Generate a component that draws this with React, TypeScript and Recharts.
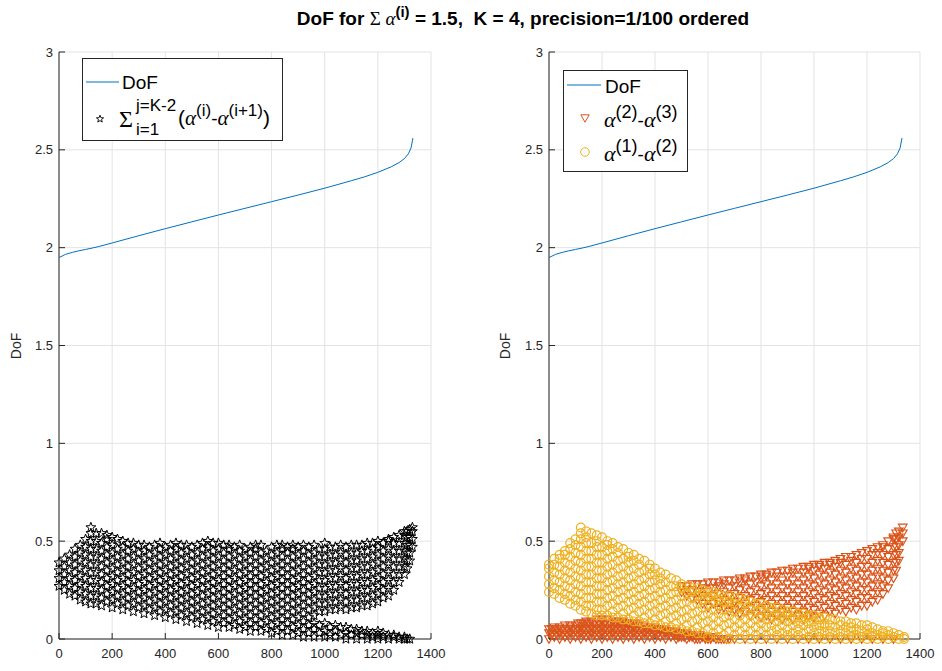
import React from 'react'
import { ComposedChart, Scatter, Line, XAxis, YAxis, CartesianGrid } from 'recharts'

const xTicks = [0, 200, 400, 600, 800, 1000, 1200, 1400]
const yTicks = [0, 0.5, 1, 1.5, 2, 2.5, 3]

// DoF curve
const dofIndex = [1, 25, 50, 75, 100, 125, 150, 200, 300, 400, 500, 600, 700, 800, 900, 1000, 1100, 1150, 1200, 1250, 1280, 1300, 1315, 1325, 1332]
const dofValue = [1.95, 1.966, 1.976, 1.984, 1.991, 1.998, 2.006, 2.024, 2.061, 2.097, 2.132, 2.167, 2.201, 2.235, 2.269, 2.304, 2.342, 2.362, 2.385, 2.413, 2.435, 2.455, 2.48, 2.51, 2.56]

// scatter clouds read column by column: [index, values in hundredths]
// alpha(1)-alpha(3)
const sumCols: [number, number[]][] = [
  [0, [27, 31, 35, 39]],
  [20, [25, 29, 33, 37, 41]],
  [40, [23, 27, 31, 35, 39, 43]],
  [60, [22, 26, 30, 34, 38, 42, 46]],
  [80, [20, 24, 28, 32, 36, 40, 44, 48]],
  [100, [19, 23, 27, 31, 35, 39, 43, 47, 51]],
  [120, [18, 22, 26, 30, 34, 38, 42, 46, 50, 54, 57]],
  [140, [18, 22, 26, 30, 34, 38, 42, 46, 50, 54]],
  [160, [17, 21, 25, 29, 33, 37, 41, 45, 49, 54]],
  [180, [19, 23, 27, 31, 35, 39, 43, 47, 51, 53]],
  [200, [16, 20, 24, 28, 32, 36, 40, 44, 48, 52]],
  [220, [18, 22, 26, 30, 34, 38, 42, 46, 51]],
  [240, [15, 19, 23, 27, 31, 35, 39, 43, 47, 50]],
  [260, [17, 21, 25, 29, 33, 37, 41, 45, 49]],
  [280, [14, 18, 22, 26, 30, 34, 38, 42, 46, 49]],
  [300, [16, 20, 24, 28, 32, 36, 40, 44, 48]],
  [320, [13, 17, 21, 25, 29, 33, 37, 41, 45, 48]],
  [340, [15, 19, 23, 27, 31, 35, 39, 43, 47]],
  [360, [12, 16, 20, 24, 28, 32, 36, 40, 44, 48]],
  [380, [14, 18, 22, 26, 30, 34, 38, 42, 46, 49]],
  [400, [11, 15, 19, 23, 27, 31, 35, 39, 43, 47]],
  [420, [13, 17, 21, 25, 29, 33, 37, 41, 45, 48]],
  [440, [10, 14, 18, 22, 26, 30, 34, 38, 42, 46, 49]],
  [460, [12, 16, 20, 24, 28, 32, 36, 40, 44, 48]],
  [480, [9, 13, 17, 21, 25, 29, 33, 37, 41, 45, 48]],
  [500, [11, 15, 19, 23, 27, 31, 35, 39, 43, 47]],
  [520, [8, 12, 16, 20, 24, 28, 32, 36, 40, 44, 48]],
  [540, [10, 14, 18, 22, 26, 30, 34, 38, 42, 46, 49]],
  [560, [7, 11, 15, 19, 23, 27, 31, 35, 39, 43, 47, 50]],
  [580, [9, 13, 17, 21, 25, 29, 33, 37, 41, 45, 49]],
  [600, [6, 10, 14, 18, 22, 26, 30, 34, 38, 42, 46, 49]],
  [620, [8, 12, 16, 20, 24, 28, 32, 36, 40, 44, 48]],
  [640, [6, 10, 14, 18, 22, 26, 30, 34, 38, 42, 46, 48]],
  [660, [7, 11, 15, 19, 23, 27, 31, 35, 39, 43, 47]],
  [680, [5, 9, 13, 17, 21, 25, 29, 33, 37, 41, 45, 48]],
  [700, [6, 10, 14, 18, 22, 26, 30, 34, 38, 42, 46]],
  [720, [4, 8, 12, 16, 20, 24, 28, 32, 36, 40, 44, 47]],
  [740, [6, 10, 14, 18, 22, 26, 30, 34, 38, 42, 46, 48]],
  [760, [4, 8, 12, 16, 20, 24, 28, 32, 36, 40, 44, 48]],
  [780, [5, 9, 13, 17, 21, 25, 29, 33, 37, 41, 45]],
  [800, [3, 7, 11, 15, 19, 23, 27, 31, 35, 39, 43, 47]],
  [820, [4, 8, 12, 16, 20, 24, 28, 32, 36, 40, 44, 48]],
  [840, [2, 6, 10, 14, 18, 22, 26, 30, 34, 38, 42, 46, 48]],
  [860, [4, 8, 12, 16, 20, 24, 28, 32, 36, 40, 44, 47]],
  [880, [2, 6, 10, 14, 18, 22, 26, 30, 34, 38, 42, 46, 48]],
  [900, [3, 7, 11, 15, 19, 23, 27, 31, 35, 39, 43, 47]],
  [920, [1, 5, 9, 13, 17, 21, 25, 29, 33, 37, 41, 45, 48]],
  [940, [3, 7, 11, 15, 19, 23, 27, 31, 35, 39, 43, 47]],
  [960, [1, 5, 8, 12, 16, 20, 24, 28, 32, 36, 40, 44, 48]],
  [980, [3, 7, 14, 18, 22, 26, 30, 34, 38, 42, 46]],
  [1000, [1, 4, 8, 14, 18, 22, 26, 30, 34, 38, 42, 46, 49]],
  [1020, [2, 6, 15, 19, 23, 27, 31, 35, 39, 43, 47]],
  [1040, [1, 4, 7, 15, 19, 23, 27, 31, 35, 39, 43, 47]],
  [1060, [2, 6, 16, 20, 24, 28, 32, 36, 40, 44, 48]],
  [1080, [0, 3, 6, 15, 19, 23, 27, 31, 35, 39, 43, 47]],
  [1100, [2, 5, 16, 20, 24, 28, 32, 36, 40, 44, 48]],
  [1120, [0, 3, 5, 16, 20, 24, 28, 32, 36, 40, 44, 48]],
  [1140, [2, 4, 17, 21, 25, 29, 33, 37, 41, 45, 48]],
  [1160, [0, 2, 4, 17, 21, 25, 29, 33, 37, 41, 45, 49]],
  [1180, [1, 3, 18, 22, 26, 30, 34, 38, 42, 46, 49]],
  [1200, [0, 2, 4, 19, 23, 27, 31, 35, 39, 43, 47, 50]],
  [1220, [1, 3, 21, 25, 29, 33, 37, 41, 45, 49]],
  [1240, [0, 2, 22, 26, 30, 34, 38, 42, 46, 50, 51]],
  [1260, [1, 2, 25, 29, 33, 37, 41, 45, 49, 52]],
  [1280, [0, 1, 29, 33, 37, 41, 45, 49, 53]],
  [1300, [0, 1, 33, 37, 41, 45, 49, 53, 55]],
  [1310, [0, 36, 40, 44, 48, 52, 55]],
  [1320, [0, 40, 44, 48, 52, 56]],
  [1330, [47, 51, 55, 57]],
]

// alpha(2)-alpha(3)
const diff23Cols: [number, number[]][] = [
  [0, [0, 3, 5]],
  [20, [1, 4, 6]],
  [40, [0, 3, 6]],
  [60, [1, 4, 7]],
  [80, [0, 3, 6, 7]],
  [100, [1, 4, 7]],
  [120, [0, 3, 6, 8]],
  [140, [1, 4, 7, 9]],
  [160, [0, 3, 6, 9]],
  [180, [1, 4, 7, 10]],
  [200, [0, 3, 6, 9, 10]],
  [220, [1, 4, 7, 10]],
  [240, [0, 3, 6, 9]],
  [260, [1, 4, 7, 9]],
  [280, [0, 3, 6, 9]],
  [300, [1, 4, 7, 8]],
  [320, [0, 3, 6, 8]],
  [340, [1, 4, 7]],
  [360, [0, 3, 6, 7]],
  [380, [1, 4, 6]],
  [400, [0, 3, 6]],
  [420, [1, 4, 5]],
  [440, [0, 3, 5]],
  [460, [1, 4]],
  [480, [0, 2, 4]],
  [500, [1, 3, 24, 27]],
  [520, [0, 3, 22, 25, 27]],
  [540, [1, 2, 21, 25, 28]],
  [560, [0, 2, 20, 24, 28]],
  [580, [1, 18, 22, 26, 28]],
  [600, [0, 1, 16, 20, 24, 29]],
  [620, [1, 18, 22, 26, 29]],
  [640, [0, 15, 19, 23, 27, 29]],
  [660, [0, 16, 20, 24, 28, 30]],
  [680, [0, 14, 18, 22, 26, 30]],
  [700, [0, 15, 19, 23, 27, 30]],
  [720, [13, 17, 21, 25, 29, 31]],
  [740, [0, 14, 18, 22, 26, 30, 31]],
  [760, [12, 16, 20, 24, 28, 32]],
  [780, [0, 13, 17, 21, 25, 29, 32]],
  [800, [11, 15, 19, 23, 27, 31, 33]],
  [820, [0, 12, 16, 20, 24, 28, 32, 33]],
  [840, [10, 14, 18, 22, 26, 30, 34]],
  [860, [0, 12, 16, 20, 24, 28, 32, 34]],
  [880, [10, 14, 18, 22, 26, 30, 35]],
  [900, [0, 12, 16, 20, 24, 28, 32, 35]],
  [920, [10, 14, 18, 22, 26, 30, 34, 36]],
  [940, [0, 12, 16, 20, 24, 28, 32, 36]],
  [960, [10, 14, 18, 22, 26, 30, 34, 37]],
  [980, [0, 12, 16, 20, 24, 28, 32, 36, 37]],
  [1000, [11, 15, 19, 23, 27, 31, 35, 38]],
  [1020, [0, 13, 17, 21, 25, 29, 33, 37, 38]],
  [1040, [12, 16, 20, 24, 28, 32, 36, 39]],
  [1060, [0, 14, 18, 22, 26, 30, 34, 38, 39]],
  [1080, [13, 17, 21, 25, 29, 33, 37, 40]],
  [1100, [0, 15, 19, 23, 27, 31, 35, 39, 41]],
  [1120, [14, 18, 22, 26, 30, 34, 38, 42]],
  [1140, [0, 16, 20, 24, 28, 32, 36, 40, 42]],
  [1160, [15, 19, 23, 27, 31, 35, 39, 43]],
  [1180, [0, 17, 21, 25, 29, 33, 37, 41, 44]],
  [1200, [17, 21, 25, 29, 33, 37, 41, 45]],
  [1220, [0, 19, 23, 27, 31, 35, 39, 43, 46]],
  [1240, [20, 24, 28, 32, 36, 40, 44, 47]],
  [1260, [0, 23, 27, 31, 35, 39, 43, 47, 48]],
  [1280, [26, 30, 34, 38, 42, 46, 50]],
  [1300, [0, 31, 35, 39, 43, 47, 51, 52]],
  [1310, [35, 39, 43, 47, 51, 54]],
  [1320, [40, 44, 48, 52, 55]],
  [1335, [50, 54, 57]],
]

// alpha(2)-alpha(3), the dense low hump between the columns above
const diff23LowCols: [number, number[]][] = [
  [10, [2, 5]], [30, [2, 5]], [50, [2, 5]], [70, [2, 5]], [90, [2, 5]],
  [110, [2, 5, 8]], [130, [2, 5, 8]], [150, [2, 5, 8]], [170, [2, 5, 8]], [190, [2, 5, 8]],
  [210, [2, 5, 8]], [230, [2, 5, 8]], [250, [2, 5, 8]], [270, [2, 5, 8]], [290, [2, 5, 8]],
  [310, [2, 5, 8]], [330, [2, 5, 8]], [350, [2, 5]], [370, [2, 5]], [390, [2, 5]],
  [410, [2, 5]], [430, [2, 5]], [450, [2, 4]], [470, [2, 4]], [490, [1, 3]],
  [510, [1, 3]], [530, [1, 2]], [550, [0, 2]], [570, [0, 2]], [590, [0, 1]],
  [610, [0, 1]], [630, [0]], [650, [0]], [670, [0]],
]

// alpha(1)-alpha(2)
const diff12Cols: [number, number[]][] = [
  [0, [24, 28, 32, 36, 38]],
  [20, [23, 26, 30, 34, 38, 41]],
  [40, [21, 25, 29, 33, 37, 41, 43]],
  [60, [20, 23, 27, 31, 35, 39, 43, 45]],
  [80, [18, 22, 26, 30, 34, 38, 42, 46, 49]],
  [100, [17, 20, 24, 28, 32, 36, 40, 44, 48, 51]],
  [120, [15, 19, 23, 27, 31, 35, 39, 43, 47, 51, 54, 57]],
  [140, [14, 17, 21, 25, 29, 33, 37, 41, 45, 49, 52, 55]],
  [160, [13, 17, 21, 25, 29, 33, 37, 41, 45, 49, 54]],
  [180, [12, 15, 19, 23, 27, 31, 35, 39, 43, 47, 50, 53]],
  [200, [12, 15, 19, 23, 27, 31, 35, 39, 43, 47, 52]],
  [220, [12, 17, 21, 25, 29, 33, 37, 41, 45, 48, 50]],
  [240, [11, 14, 18, 22, 26, 30, 34, 38, 42, 46, 49]],
  [260, [11, 16, 20, 24, 28, 32, 36, 40, 44, 47]],
  [280, [10, 13, 17, 21, 25, 29, 33, 37, 41, 46]],
  [300, [10, 15, 19, 23, 27, 31, 35, 39, 42, 44]],
  [320, [9, 12, 16, 20, 24, 28, 32, 36, 40, 43]],
  [340, [9, 14, 18, 22, 26, 30, 34, 38, 41]],
  [360, [8, 11, 15, 19, 23, 27, 31, 35, 40]],
  [380, [8, 13, 17, 21, 25, 29, 33, 36, 38]],
  [400, [7, 10, 14, 18, 22, 26, 30, 33, 36]],
  [420, [7, 12, 16, 20, 24, 28, 31, 34]],
  [440, [6, 9, 13, 17, 21, 25, 29, 33]],
  [460, [6, 11, 15, 19, 23, 27, 31]],
  [480, [5, 8, 12, 16, 20, 24, 27, 30]],
  [500, [5, 10, 14, 18, 22, 26, 28]],
  [520, [4, 7, 11, 15, 19, 23, 27]],
  [540, [4, 9, 13, 17, 21, 24, 26]],
  [560, [3, 6, 10, 14, 18, 22, 26]],
  [580, [3, 8, 12, 16, 20, 23, 25]],
  [600, [1, 5, 9, 13, 17, 21, 24]],
  [620, [3, 7, 11, 15, 19, 22, 24]],
  [640, [1, 5, 9, 13, 17, 20, 23]],
  [660, [2, 7, 11, 15, 19, 22]],
  [680, [0, 4, 8, 12, 16, 19, 22]],
  [700, [2, 6, 10, 14, 18, 21]],
  [720, [0, 4, 8, 12, 16, 21]],
  [740, [2, 6, 10, 14, 18, 20]],
  [760, [0, 4, 8, 12, 15, 19]],
  [780, [2, 6, 10, 14, 18]],
  [800, [0, 4, 8, 11, 15, 18]],
  [820, [2, 6, 10, 13, 17]],
  [840, [0, 4, 7, 11, 14, 16]],
  [860, [2, 5, 9, 12, 16]],
  [880, [0, 3, 7, 10, 13, 15]],
  [900, [2, 5, 9, 12, 14]],
  [920, [0, 3, 7, 10, 14]],
  [940, [2, 5, 8, 11, 13]],
  [960, [0, 3, 7, 10, 13]],
  [980, [1, 5, 8, 11, 12]],
  [1000, [0, 3, 6, 9, 12]],
  [1020, [1, 4, 7, 10, 11]],
  [1040, [0, 3, 6, 8, 11]],
  [1060, [1, 4, 7, 10]],
  [1080, [0, 3, 6, 10]],
  [1100, [1, 4, 7, 9]],
  [1120, [0, 3, 6, 9]],
  [1140, [1, 4, 6, 8]],
  [1160, [0, 2, 5, 8]],
  [1180, [1, 4, 7]],
  [1200, [0, 2, 5, 7]],
  [1220, [1, 3, 6]],
  [1240, [0, 2, 5]],
  [1260, [1, 3, 4]],
  [1280, [0, 2, 4]],
  [1300, [1, 3]],
  [1320, [0, 2]],
  [1340, [0, 1]],
]

const AXIS = '#262626'
const GRID = '#e3e3e3'
const BLUE = '#0072BD'
const ORANGE = '#D95319'
const YELLOW = '#EDB120'
const SANS = '"Liberation Sans", Arial, Helvetica, sans-serif'
const SERIF = '"Liberation Serif", "DejaVu Serif", serif'

const toPoints = (cols: [number, number[]][]) =>
  cols.flatMap(([x, ys]) => ys.map((v) => ({ x, y: v / 100 })))

const dofData = dofIndex.map((x, i) => ({ x, y: dofValue[i] }))
const sumData = toPoints(sumCols)
const d23Data = toPoints([...diff23LowCols, ...diff23Cols])
const d12Data = toPoints(diff12Cols)

const starPath = (cx: number, cy: number, r = 5.2) => {
  const pts: string[] = []
  for (let k = 0; k < 10; k++) {
    const rr = k % 2 === 0 ? r : r * 0.42
    const a = -Math.PI / 2 + (k * Math.PI) / 5
    pts.push(`${(cx + rr * Math.cos(a)).toFixed(2)},${(cy + rr * Math.sin(a)).toFixed(2)}`)
  }
  return `M${pts.join('L')}Z`
}

const StarMark = (p: any) => (
  <path d={starPath(p.cx, p.cy)} fill="none" stroke="#000" strokeWidth={1} />
)
const TriMark = (p: any) => (
  <path
    d={`M${p.cx - 4.3},${p.cy - 3.3}L${p.cx + 4.3},${p.cy - 3.3}L${p.cx},${p.cy + 4.3}Z`}
    fill="none"
    stroke={ORANGE}
    strokeWidth={1.15}
  />
)
const RingMark = (p: any) => (
  <circle cx={p.cx} cy={p.cy} r={4.4} fill="none" stroke={YELLOW} strokeWidth={1.2} />
)

function Axes() {
  return [
    <CartesianGrid key="g" stroke={GRID} />,
    <XAxis
      key="xb"
      type="number"
      dataKey="x"
      domain={[0, 1400]}
      ticks={xTicks}
      interval={0}
      height={20}
      tickSize={-6}
      tickMargin={16}
      stroke={AXIS}
      tick={{ fill: AXIS, fontSize: 13 }}
    />,
    <XAxis
      key="xt"
      xAxisId="top"
      orientation="top"
      mirror
      type="number"
      domain={[0, 1400]}
      ticks={xTicks}
      interval={0}
      height={0}
      tickSize={6}
      tick={false}
      stroke={AXIS}
    />,
    <YAxis
      key="yl"
      type="number"
      dataKey="y"
      domain={[0, 3]}
      ticks={yTicks}
      interval={0}
      width={30}
      tickSize={-6}
      tickMargin={12}
      stroke={AXIS}
      tick={{ fill: AXIS, fontSize: 13 }}
    />,
    <YAxis
      key="yr"
      yAxisId="right"
      orientation="right"
      mirror
      type="number"
      domain={[0, 3]}
      ticks={yTicks}
      interval={0}
      width={0}
      tickSize={6}
      tick={false}
      stroke={AXIS}
    />,
  ]
}

const AlphaDiff = ({ x, y, a, b }: { x: number; y: number; a: string; b: string }) => (
  <text x={x} y={y} fontSize={19} fill="#000">
    <tspan fontFamily={SERIF} fontStyle="italic" fontSize={22}>α</tspan>
    <tspan dy={-9} fontSize={18}>{a}</tspan>
    <tspan dy={9}>-</tspan>
    <tspan fontFamily={SERIF} fontStyle="italic" fontSize={22}>α</tspan>
    <tspan dy={-9} fontSize={18}>{b}</tspan>
  </text>
)

export default function App() {
  return (
    <div
      style={{
        position: 'absolute',
        left: 0,
        top: 0,
        width: 942,
        height: 671,
        background: '#fff',
        fontFamily: SANS,
        overflow: 'hidden',
      }}
    >
      <div style={{ position: 'absolute', left: 0, top: 0 }}>
        <ComposedChart width={471} height={671} margin={{ top: 52, right: 40, bottom: 12, left: 29 }}>
          {Axes()}
          <Line data={dofData} dataKey="y" type="linear" stroke={BLUE} strokeWidth={1} dot={false} isAnimationActive={false} />
          <Scatter data={sumData} shape={StarMark} isAnimationActive={false} />
        </ComposedChart>
      </div>
      <div style={{ position: 'absolute', left: 490, top: 0 }}>
        <ComposedChart width={452} height={671} margin={{ top: 52, right: 22, bottom: 12, left: 29 }}>
          {Axes()}
          <Line data={dofData} dataKey="y" type="linear" stroke={BLUE} strokeWidth={1} dot={false} isAnimationActive={false} />
          <Scatter data={d23Data} shape={TriMark} isAnimationActive={false} />
          <Scatter data={d12Data} shape={RingMark} isAnimationActive={false} />
        </ComposedChart>
      </div>

      <svg width={942} height={671} style={{ position: 'absolute', left: 0, top: 0, pointerEvents: 'none' }}>
        {/* title */}
        <text x={523} y={25} textAnchor="middle" fontSize={19} fontWeight="bold" fill="#000" style={{ whiteSpace: 'pre' }}>
          DoF for <tspan fontFamily={SERIF} fontWeight="normal">Σ </tspan>
          <tspan fontFamily={SERIF} fontStyle="italic" fontWeight="normal">α</tspan>
          <tspan dy={-8} fontSize={15}>(i)</tspan>
          <tspan dy={8}> = 1.5,  K = 4, precision=1/100 ordered</tspan>
        </text>

        {/* y labels */}
        <text transform="translate(21,346) rotate(-90)" textAnchor="middle" fontSize={14} fill={AXIS}>DoF</text>
        <text transform="translate(510,346) rotate(-90)" textAnchor="middle" fontSize={14} fill={AXIS}>DoF</text>

        {/* left legend */}
        <rect x={82.5} y={58.5} width={200} height={82} fill="#fff" stroke={AXIS} />
        <line x1={86} x2={119} y1={82} y2={82} stroke={BLUE} />
        <text x={122} y={89} fontSize={19} fill="#000">DoF</text>
        <path d={starPath(100, 119, 3.8)} fill="none" stroke="#000" strokeWidth={0.9} />
        <text x={119} y={127} fontSize={24} fontFamily={SERIF} fill="#000">Σ</text>
        <text x={136} y={111} fontSize={17} fill="#000">j=K-2</text>
        <text x={136} y={135} fontSize={17} fill="#000">i=1</text>
        <text x={178} y={125} fontSize={19} fill="#000">
          <tspan fontSize={21}>(</tspan>
          <tspan fontFamily={SERIF} fontStyle="italic" fontSize={21}>α</tspan>
          <tspan dy={-9} fontSize={17}>(i)</tspan>
          <tspan dy={9}>-</tspan>
          <tspan fontFamily={SERIF} fontStyle="italic" fontSize={21}>α</tspan>
          <tspan dy={-9} fontSize={17}>(i+1)</tspan>
          <tspan dy={9} fontSize={21}>)</tspan>
        </text>

        {/* right legend */}
        <rect x={563.5} y={70.5} width={124} height={101} fill="#fff" stroke={AXIS} />
        <line x1={567} x2={601} y1={85} y2={85} stroke={BLUE} />
        <text x={605} y={93} fontSize={19} fill="#000">DoF</text>
        <path d="M580.8,114.8L589.2,114.8L585,122.2Z" fill="none" stroke={ORANGE} />
        <AlphaDiff x={604} y={127} a="(2)" b="(3)" />
        <circle cx={585} cy={152} r={4.3} fill="none" stroke={YELLOW} />
        <AlphaDiff x={604} y={161} a="(1)" b="(2)" />
      </svg>
    </div>
  )
}
